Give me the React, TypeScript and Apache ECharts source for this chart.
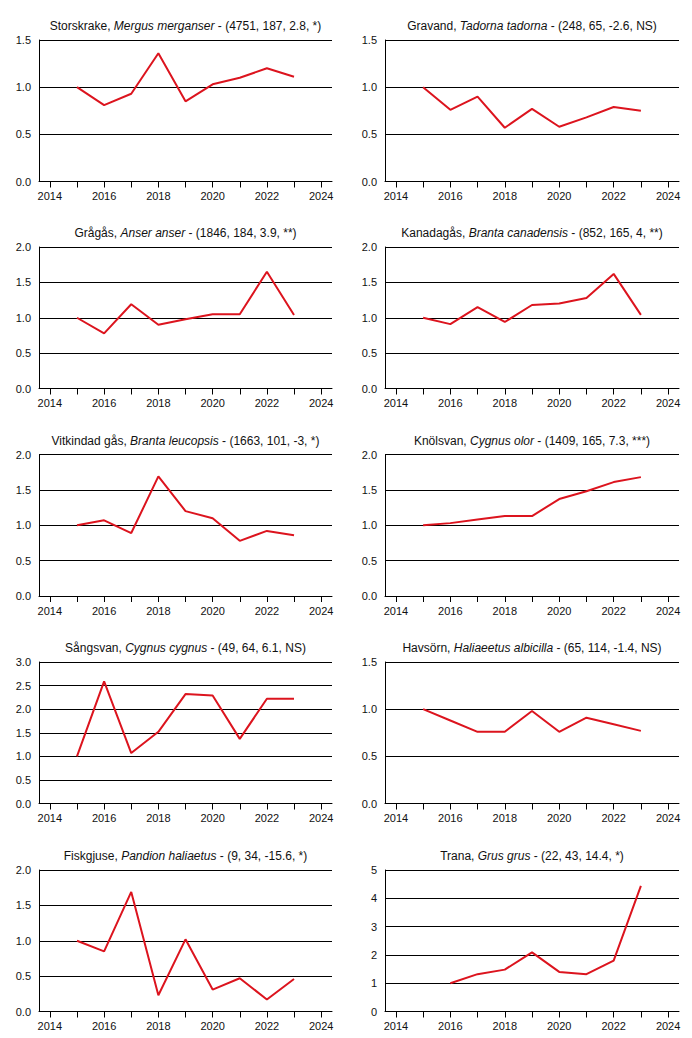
import React, { useEffect, useRef } from "react";
import * as echarts from "echarts";

const years = [2015, 2016, 2017, 2018, 2019, 2020, 2021, 2022, 2023];
const tranaYears = [2016, 2017, 2018, 2019, 2020, 2021, 2022, 2023];
const xTicks = [2014, 2015, 2016, 2017, 2018, 2019, 2020, 2021, 2022, 2023, 2024];
const xLabels = [2014, 2016, 2018, 2020, 2022, 2024];

const swedishNames = ["Storskrake", "Gravand", "Grågås", "Kanadagås", "Vitkindad gås", "Knölsvan", "Sångsvan", "Havsörn", "Fiskgjuse", "Trana"];
const latinNames = ["Mergus merganser", "Tadorna tadorna", "Anser anser", "Branta canadensis", "Branta leucopsis", "Cygnus olor", "Cygnus cygnus", "Haliaeetus albicilla", "Pandion haliaetus", "Grus grus"];
const stats = ["(4751, 187, 2.8, *)", "(248, 65, -2.6, NS)", "(1846, 184, 3.9, **)", "(852, 165, 4, **)", "(1663, 101, -3, *)", "(1409, 165, 7.3, ***)", "(49, 64, 6.1, NS)", "(65, 114, -1.4, NS)", "(9, 34, -15.6, *)", "(22, 43, 14.4, *)"];

const storskrake = [1.0, 0.81, 0.93, 1.36, 0.85, 1.03, 1.1, 1.2, 1.11];
const gravand = [1.0, 0.76, 0.9, 0.57, 0.77, 0.58, 0.68, 0.79, 0.75];
const gragas = [1.0, 0.78, 1.19, 0.9, 0.98, 1.05, 1.05, 1.65, 1.04];
const kanadagas = [1.0, 0.91, 1.15, 0.94, 1.18, 1.2, 1.28, 1.62, 1.04];
const vitkindadGas = [1.0, 1.07, 0.89, 1.69, 1.2, 1.1, 0.78, 0.92, 0.86];
const knolsvan = [1.0, 1.03, 1.08, 1.13, 1.13, 1.37, 1.48, 1.61, 1.68];
const sangsvan = [1.0, 2.59, 1.07, 1.52, 2.32, 2.29, 1.37, 2.22, 2.22];
const havsorn = [1.0, 0.88, 0.76, 0.76, 0.98, 0.76, 0.91, 0.84, 0.77];
const fiskgjuse = [1.0, 0.85, 1.69, 0.23, 1.02, 0.31, 0.47, 0.17, 0.46];
const trana = [1.0, 1.32, 1.48, 2.09, 1.4, 1.32, 1.8, 4.44];

const seriesValues = [storskrake, gravand, gragas, kanadagas, vitkindadGas, knolsvan, sangsvan, havsorn, fiskgjuse, trana];
const seriesYears = [years, years, years, years, years, years, years, years, years, tranaYears];
const yMaxes = [1.5, 1.5, 2, 2, 2, 2, 3, 1.5, 2, 5];
const yIntervals = [0.5, 0.5, 0.5, 0.5, 0.5, 0.5, 0.5, 0.5, 0.5, 1];
const yDecimals = [1, 1, 1, 1, 1, 1, 1, 1, 1, 0];

const FONT = "'Liberation Sans', Arial, sans-serif";
const RED = "#dc141e";

export default function App() {
  const ref = useRef<HTMLDivElement>(null);
  useEffect(() => {
    document.body.style.margin = "0";
    const chart = echarts.init(ref.current!, null, { renderer: "svg" });
    const colLeft = [39, 385];
    const colWidth = [293, 294];
    const rowTop = [40, 247, 454.5, 662, 870];
    const plotH = 141.5;

    const grids: any[] = [];
    const xAxes: any[] = [];
    const yAxes: any[] = [];
    const series: any[] = [];
    const titles: any[] = [];

    for (let i = 0; i < 10; i++) {
      const col = i % 2;
      const row = Math.floor(i / 2);
      const left = colLeft[col];
      const width = colWidth[col];
      const top = rowTop[row];
      grids.push({ left, top, width, height: plotH, containLabel: false });
      titles.push({
        text: `{n|${swedishNames[i]}, }{i|${latinNames[i]}}{n| - ${stats[i]}}`,
        left: left + width / 2,
        top: top - 20,
        padding: 0,
        textAlign: "center",
        textStyle: {
          fontSize: 12,
          fontWeight: "normal",
          fontFamily: FONT,
          color: "#111",
          rich: {
            n: { fontSize: 12, fontFamily: FONT, color: "#111" },
            i: { fontSize: 12, fontFamily: FONT, color: "#111", fontStyle: "italic" },
          },
        },
      });
      xAxes.push({
        type: "value",
        gridIndex: i,
        min: 2013.6,
        max: 2024.4,
        axisLine: { show: true, onZero: false, lineStyle: { color: "#000", width: 1 } },
        axisTick: { show: true, length: 6, lineStyle: { color: "#000", width: 1 }, customValues: xTicks },
        axisLabel: { show: true, margin: 9, fontSize: 11, fontFamily: FONT, color: "#111", customValues: xLabels, formatter: (v: number) => String(v) },
        splitLine: { show: false },
      });
      const dec = yDecimals[i];
      yAxes.push({
        type: "value",
        gridIndex: i,
        min: 0,
        max: yMaxes[i],
        interval: yIntervals[i],
        axisLine: { show: true, lineStyle: { color: "#000", width: 1 } },
        axisTick: { show: false },
        axisLabel: { show: true, margin: 8, fontSize: 11, fontFamily: FONT, color: "#111", formatter: (v: number) => v.toFixed(dec) },
        splitLine: { show: true, lineStyle: { color: "#000", width: 1 } },
      });
      series.push({
        type: "line",
        xAxisIndex: i,
        yAxisIndex: i,
        data: seriesYears[i].map((y, k) => [y, seriesValues[i][k]]),
        symbol: "none",
        lineStyle: { color: RED, width: 2 },
        itemStyle: { color: RED },
        z: 5,
      });
    }

    chart.setOption({
      animation: false,
      backgroundColor: "#fff",
      title: titles,
      grid: grids,
      xAxis: xAxes,
      yAxis: yAxes,
      series,
    });
    return () => chart.dispose();
  }, []);
  return <div ref={ref} style={{ width: 692, height: 1038 }} />;
}
